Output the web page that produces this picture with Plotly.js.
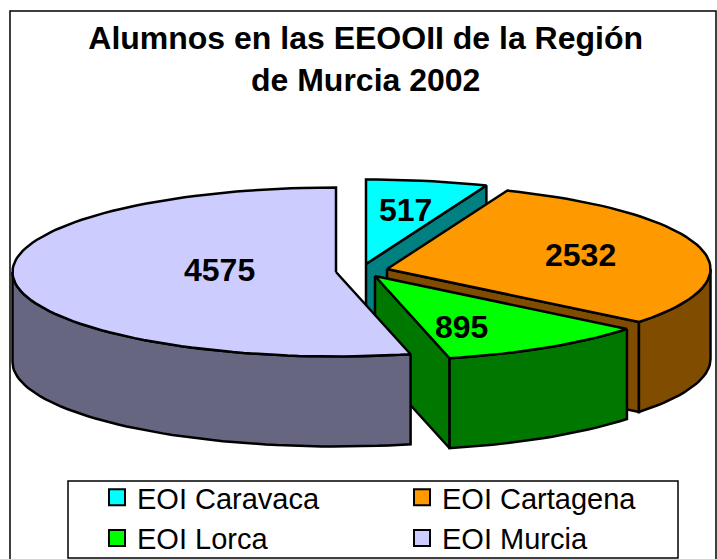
<!DOCTYPE html>
<html><head><meta charset="utf-8">
<script src="https://cdn.plot.ly/plotly-3.0.1.min.js"></script>
<style>html,body{margin:0;padding:0;background:#fff;overflow:hidden}</style>
</head><body><div id="chart" style="width:717px;height:559px"></div>
<script>
const categories = ['EOI Caravaca','EOI Cartagena','EOI Lorca','EOI Murcia'];
const values = [517,2532,895,4575];
const topColors = ['#00FFFF','#FF9900','#00FF00','#CCCCFF'];
const sideColors = ['#008080','#804C00','#007800','#666680'];
const centerX = [366,387,375,336];
const centerY = [264,269,276,272];
const labelX = [405,580,461,219];
const labelY = [210,255,327,270];
const radiusX = 323.5, radiusY = 84.5, depth = 90;

const total = values.reduce((a,b)=>a+b,0);
const traces = [];
const rad = d => d*Math.PI/180;
function px(i,a){return centerX[i]+radiusX*Math.sin(rad(a));}
function py(i,a){return centerY[i]-radiusY*Math.cos(rad(a));}
function face(xs,ys,color){
  traces.push({type:'scatter',mode:'lines',x:xs.concat(xs[0]),y:ys.concat(ys[0]),fill:'toself',
    fillcolor:color,line:{color:'#000',width:2.5},hoverinfo:'skip',showlegend:false});
}
function arc(i,a0,a1){
  const xs=[],ys=[];const n=Math.max(2,Math.ceil((a1-a0)/2));
  for(let k=0;k<=n;k++){const a=a0+(a1-a0)*k/n;xs.push(px(i,a));ys.push(py(i,a));}
  return [xs,ys];
}
let start=0;
values.forEach((v,i)=>{
  const a0=start,a1=start+v/total*360;start=a1;
  if(Math.sin(rad(a1))>1e-6){
    const ex=px(i,a1),ey=py(i,a1),cx=centerX[i],cy=centerY[i];
    face([cx,ex,ex,cx],[cy,ey,ey+depth,cy+depth],sideColors[i]);
  }
  const f0=Math.max(a0,90),f1=Math.min(a1,270);
  if(f1>f0){
    const [xs,ys]=arc(i,f0,f1);
    face(xs.concat(xs.slice().reverse()),ys.concat(ys.slice().reverse().map(y=>y+depth)),sideColors[i]);
  }
  const [tx,ty]=arc(i,a0,a1);
  face([centerX[i]].concat(tx),[centerY[i]].concat(ty),topColors[i]);
});
categories.forEach((c,i)=>{
  traces.push({type:'scatter',mode:'markers',x:[null],y:[null],name:c,
    marker:{symbol:'square',size:16,color:topColors[i],line:{color:'#000',width:2}},hoverinfo:'skip'});
});
const annotations = values.map((v,i)=>({x:labelX[i],y:labelY[i],xref:'x',yref:'y',text:String(v),showarrow:false,
  font:{family:'"Liberation Sans",Arial,sans-serif',size:32,color:'#000',weight:700}}));
const layout = {
  width:717,height:559,margin:{l:0,r:0,t:0,b:0,pad:0,autoexpand:false},paper_bgcolor:'#fff',plot_bgcolor:'#fff',
  xaxis:{range:[0,717],visible:false,fixedrange:true},
  yaxis:{range:[559,0],visible:false,fixedrange:true},
  title:{text:'<b>Alumnos en las EEOOII de la Región<br>de Murcia 2002</b>',x:0.51,xanchor:'center',y:0.912,yanchor:'bottom',
    font:{family:'"Liberation Sans",Arial,sans-serif',size:32,color:'#000'}},
  annotations,
  shapes:[
    {type:'path',xref:'x',yref:'y',path:'M10,570 L10,11 L716,11 L716,570',line:{color:'#000',width:1.5},layer:'below'},
    {type:'rect',xref:'x',yref:'y',x0:68,x1:678,y0:481,y1:558,line:{color:'#000',width:1.5},fillcolor:'#fff',layer:'below'}
  ],
  legend:{orientation:'h',x:97/717,xanchor:'left',y:1-472/559,yanchor:'top',bgcolor:'rgba(0,0,0,0)',borderwidth:0,
    font:{family:'"Liberation Sans",Arial,sans-serif',size:29,color:'#000'},entrywidth:260,entrywidthmode:'pixels',itemwidth:30,traceorder:'normal'}
};
Plotly.newPlot('chart',traces,layout,{displayModeBar:false,staticPlot:true});
</script></body></html>
